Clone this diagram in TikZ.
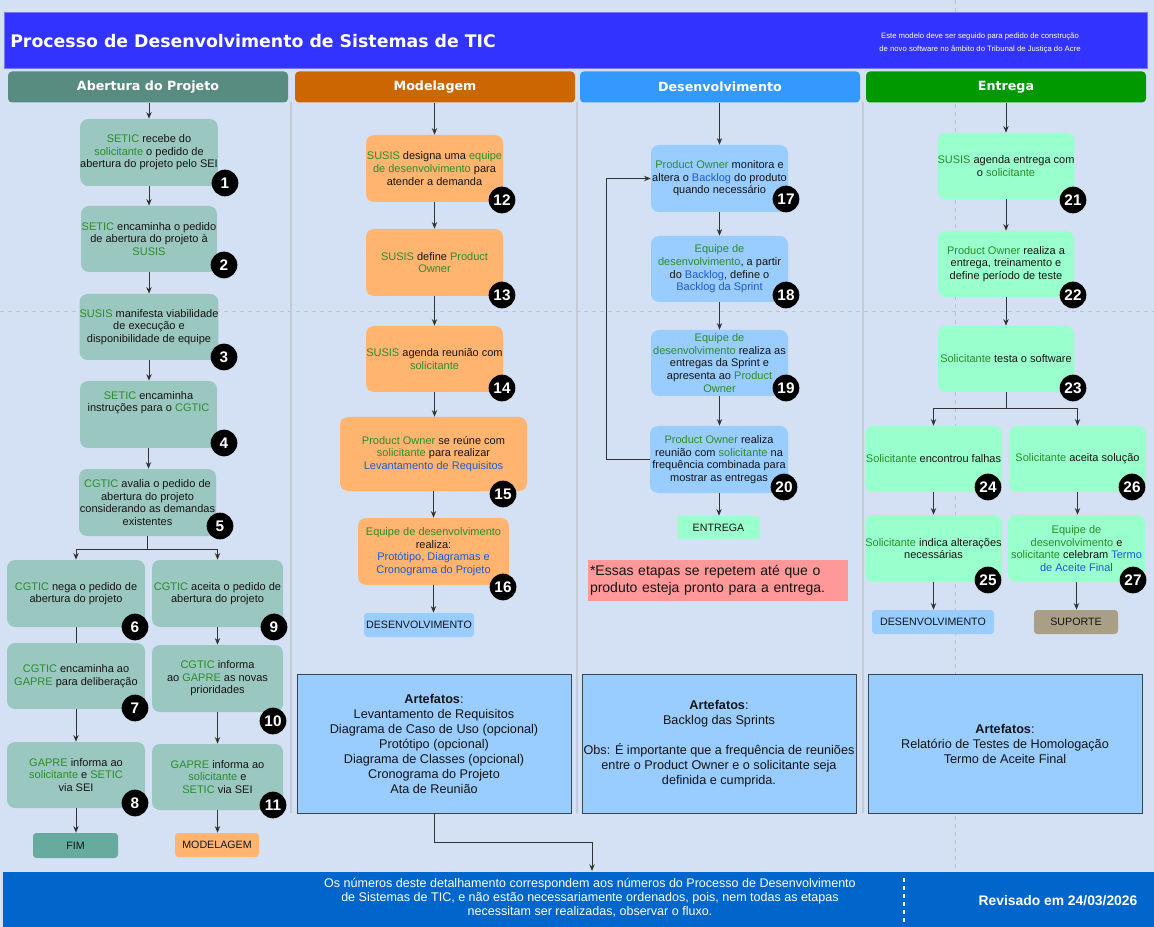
\documentclass[tikz,border=0pt]{standalone}
\usepackage{fontspec}
\setmainfont{Liberation Sans}
\newfontfamily\headfont{DejaVu Sans}
\usetikzlibrary{arrows.meta,calc}

\definecolor{pagebg}{HTML}{D4E1F4}
\definecolor{bannerblue}{HTML}{3333FF}
\definecolor{bannerline}{HTML}{7777FF}
\definecolor{footblue}{HTML}{0066CC}
\definecolor{hdA}{HTML}{588C81}
\definecolor{hdM}{HTML}{CC6600}
\definecolor{hdD}{HTML}{3399FF}
\definecolor{hdE}{HTML}{009900}
\definecolor{fillA}{HTML}{9AC7BF}
\definecolor{fillM}{HTML}{FFB570}
\definecolor{fillD}{HTML}{99CCFF}
\definecolor{fillE}{HTML}{99FFCC}
\definecolor{fimfill}{HTML}{67AB9F}
\definecolor{supfill}{HTML}{A89F85}
\definecolor{notefill}{HTML}{FF9999}
\definecolor{sepgray}{HTML}{C6CBD3}
\definecolor{gridgray}{HTML}{BCC3CE}
\definecolor{lnc}{HTML}{333333}
\definecolor{txt}{HTML}{141414}
\definecolor{actor}{HTML}{2C8C2C}
\definecolor{artefact}{HTML}{1F5ACF}
\definecolor{artline}{HTML}{3A4452}

\newcommand\hlg[1]{\textcolor{actor}{#1}}
\newcommand\hlb[1]{\textcolor{artefact}{#1}}

\begin{document}
\begin{tikzpicture}[x=0.75pt,y=-0.75pt,
  sz/.style 2 args={minimum width=#1*0.75pt,minimum height=#2*0.75pt},
  stepbox/.style={rounded corners=6pt,inner sep=0pt,align=center,text=txt,
    font=\fontsize{8.25}{9.45}\selectfont},
  stA/.style={stepbox,fill=fillA},
  stM/.style={stepbox,fill=fillM},
  stD/.style={stepbox,fill=fillD},
  stE/.style={stepbox,fill=fillE},
  badge/.style={circle,fill=black,text=white,inner sep=0pt,minimum size=20pt,
    font=\bfseries\fontsize{11.5}{12}\selectfont},
  arr/.style={draw=lnc,line width=0.75pt,-{Stealth[length=5pt,width=4pt]}},
  ln/.style={draw=lnc,line width=0.75pt},
  tagbox/.style={rounded corners=2.5pt,inner sep=0pt,text=txt,
    font=\fontsize{8}{9}\selectfont},
  colhead/.style={rounded corners=3pt,inner sep=0pt,text=white,sz={280}{31},
    font=\headfont\bfseries\fontsize{9.5}{11}\selectfont},
  artbox/.style={draw=artline,fill=fillD,line width=0.6pt,inner sep=0pt,
    align=center,text=txt,sz={274}{139},font=\fontsize{9.5}{11.25}\selectfont},
  sepline/.style={draw=sepgray,line width=1.6pt},
  gridline/.style={draw=gridgray,line width=0.6pt,dash pattern=on 3pt off 3pt}
]
\useasboundingbox (0,0) rectangle (1154,927);
\fill[pagebg] (0,0) rectangle (1154,927);

% page grid
\draw[gridline] (0,311) -- (1154,311);
\draw[gridline] (955,0) -- (955,927);

% lane separators
\draw[sepline] (291,102) -- (291,813);
\draw[sepline] (577,102) -- (577,813);
\draw[sepline] (863,102) -- (863,813);

% banner
\node[fill=bannerblue,draw=bannerline,line width=0.6pt,sz={1143}{56},inner sep=0pt] (banner) at (575.5,40) {};
\node[anchor=west,text=white,inner sep=0pt,
  font=\headfont\bfseries\fontsize{13}{15}\selectfont] (title) at (10,41)
  {Processo de Desenvolvimento de Sistemas de TIC};
\node[text=white,align=center,inner sep=0pt,font=\fontsize{5.8}{9.5}\selectfont] (subtitle) at (980,43)
  {Este modelo deve ser seguido para pedido de construção\\de novo software no âmbito do Tribunal de Justiça do Acre};

% lane headers
\node[colhead,fill=hdA] (h1) at (148,87) {Abertura do Projeto};
\node[colhead,fill=hdM] (h2) at (435,87) {Modelagem};
\node[colhead,fill=hdD] (h3) at (720,87) {Desenvolvimento};
\node[colhead,fill=hdE] (h4) at (1006,87) {Entrega};

% ---- Abertura do Projeto
\node[stA,sz={136}{67}] (n1) at (149,152.5) {\hlg{SETIC} recebe do\\\hlg{solicitante} o pedido de\\abertura do projeto pelo SEI};
\node[stA,sz={136}{66}] (n2) at (149,239) {\hlg{SETIC} encaminha o pedido\\de abertura do projeto à\\\hlg{SUSIS}};
\node[stA,sz={136}{66}] (n3) at (149,327) {\hlg{SUSIS} manifesta viabilidade\\de execução e\\disponibilidade de equipe};
\node[stA,sz={137}{67}] (n4) at (148.5,414.5) {};
\node[stepbox] (n4t) at ($(n4)+(0,-12)$) {\hlg{SETIC} encaminha\\instruções para o \hlg{CGTIC}};
\node[stA,sz={137}{67}] (n5) at (147.5,502.5) {\hlg{CGTIC} avalia o pedido de\\abertura do projeto\\considerando as demandas\\existentes};
\node[stA,sz={138}{67}] (n6) at (76,593.5) {\hlg{CGTIC} nega o pedido de\\abertura do projeto};
\node[stA,sz={138}{66}] (n7) at (76,676) {\hlg{CGTIC} encaminha ao\\\hlg{GAPRE} para deliberação};
\node[stA,sz={138}{66}] (n8) at (76,775) {\hlg{GAPRE} informa ao\\\hlg{solicitante} e \hlg{SETIC}\\via SEI};
\node[stA,sz={131}{67}] (n9) at (217.5,593.5) {\hlg{CGTIC} aceita o pedido de\\abertura do projeto};
\node[stA,sz={131}{67}] (n10) at (217.5,678.5) {\hlg{CGTIC} informa\\ao \hlg{GAPRE} as novas\\prioridades};
\node[stA,sz={131}{66}] (n11) at (217.5,777) {\hlg{GAPRE} informa ao\\\hlg{solicitante} e\\\hlg{SETIC} via SEI};
\node[tagbox,fill=fimfill,sz={85}{25}] (fim) at (75.5,845.5) {FIM};
\node[tagbox,fill=fillM,sz={84}{24}] (tomod) at (217,845) {MODELAGEM};

% ---- Modelagem
\node[stM,sz={137}{67}] (n12) at (434.5,168.5) {\hlg{SUSIS} designa uma \hlg{equipe}\\\hlg{de desenvolvimento} para\\atender a demanda};
\node[stM,sz={137}{67}] (n13) at (434.5,262.5) {\hlg{SUSIS} define \hlg{Product}\\\hlg{Owner}};
\node[stM,sz={137}{66}] (n14) at (434.5,359) {\hlg{SUSIS} agenda reunião com\\\hlg{solicitante}};
\node[stM,sz={187}{74}] (n15) at (433.5,454) {\hlg{Product Owner} se reúne com\\\hlg{solicitante} para realizar\\\hlb{Levantamento de Requisitos}};
\node[stM,sz={151}{67}] (n16) at (433.5,551.5) {\hlg{Equipe de desenvolvimento}\\realiza:\\\hlb{Protótipo, Diagramas e}\\\hlb{Cronograma do Projeto}};
\node[tagbox,fill=fillD,sz={110}{24}] (todev2) at (419,625) {DESENVOLVIMENTO};

% ---- Desenvolvimento
\node[stD,sz={137}{67}] (n17) at (719.5,178.5) {\hlg{Product Owner} monitora e\\altera o \hlb{Backlog} do produto\\quando necessário};
\node[stD,sz={137}{66}] (n18) at (719.5,269) {\hlg{Equipe de}\\\hlg{desenvolvimento}, a partir\\do \hlb{Backlog}, define o\\\hlb{Backlog da Sprint}};
\node[stD,sz={137}{66}] (n19) at (719.5,363) {\hlg{Equipe de}\\\hlg{desenvolvimento} realiza as\\entregas da Sprint e\\apresenta ao \hlg{Product}\\\hlg{Owner}};
\node[stD,sz={138}{67}] (n20) at (719,459.5) {\hlg{Product Owner} realiza\\reunião com \hlg{solicitante} na\\frequência combinada para\\mostrar as entregas};
\node[tagbox,fill=fillE,sz={83}{23}] (toent) at (718.5,527.5) {ENTREGA};
\node[fill=notefill,sz={260}{41},inner sep=0pt,text width=256*0.75pt,align=left,
  text=txt,font=\fontsize{10.5}{12.5}\selectfont] (note) at (718,580.5)
  {*Essas etapas se repetem até que o\\produto esteja pronto para a entrega.};

% ---- Entrega
\node[stE,sz={136}{66}] (n21) at (1006,166) {\hlg{SUSIS} agenda entrega com\\o \hlg{solicitante}};
\node[stE,sz={136}{66}] (n22) at (1006,264) {\hlg{Product Owner} realiza a\\entrega, treinamento e\\define período de teste};
\node[stE,sz={136}{66}] (n23) at (1006,359) {\hlg{Solicitante} testa o software};
\node[stE,sz={137}{66}] (n24) at (933.5,459) {\hlg{Solicitante} encontrou falhas};
\node[stE,sz={137}{67}] (n25) at (933.5,548.5) {\hlg{Solicitante} indica alterações\\necessárias};
\node[stE,sz={137}{66}] (n26) at (1077.5,459) {\hlg{Solicitante} aceita solução};
\node[stE,sz={137}{67}] (n27) at (1076.5,548.5) {\hlg{Equipe de}\\\hlg{desenvolvimento} e\\\hlg{solicitante} celebram \hlb{Termo}\\\hlb{de Aceite Final}};
\node[tagbox,fill=fillD,sz={122}{24}] (todev4) at (933,622) {DESENVOLVIMENTO};
\node[tagbox,fill=supfill,sz={84}{24}] (tosup) at (1076,622) {SUPORTE};

% ---- artefacts
\node[artbox] (a2) at (434,743.5) {\textbf{Artefatos}:\\Levantamento de Requisitos\\Diagrama de Caso de Uso (opcional)\\Protótipo (opcional)\\Diagrama de Classes (opcional)\\Cronograma do Projeto\\Ata de Reunião};
\node[artbox] (a3) at (719,743.5) {\textbf{Artefatos}:\\Backlog das Sprints\\[11.25pt]Obs: É importante que a frequência de reuniões\\entre o Product Owner e o solicitante seja\\definida e cumprida.};
\node[artbox] (a4) at (1005,743.5) {\textbf{Artefatos}:\\Relatório de Testes de Homologação\\Termo de Aceite Final};

% ---- footer
\node[fill=footblue,sz={1151}{55},inner sep=0pt] (foot) at (578.5,899.5) {};
\node[text=white,align=center,inner sep=0pt,font=\fontsize{9.4}{10.5}\selectfont] (footnote) at (590,898)
  {Os números deste detalhamento correspondem aos números do Processo de Desenvolvimento\\de Sistemas de TIC, e não estão necessariamente ordenados, pois, nem todas as etapas\\necessitam ser realizadas, observar o fluxo.};
\node[text=white,inner sep=0pt,font=\bfseries\fontsize{10.4}{12}\selectfont] (revised) at (1058,901) {Revisado em 24/03/2026};
\draw[white,line width=0.8pt,dash pattern=on 3pt off 3pt] (904,878) -- (904,922);
\coordinate (ftin) at (592,871);

% ---- step badges
\foreach \k/\px/\py in {1/225/183,2/224/265,3/224/357,4/224/443,5/220/526,
  6/135/627,7/135/708,8/135/803,9/274/627,10/273/721,11/273/805,
  12/502/200,13/502/295,14/502/388,15/503/494,16/503/587,
  17/786/199,18/786/295,19/786/388,20/784/487,
  21/1073/200,22/1073/295,23/1073/388,24/988/487,25/988/580,26/1132/487,27/1133/580}
  \node[badge] (b\k) at (\px,\py) {\k};

% ---- connectors
\draw[arr] (n1.north |- h1.south) -- (n1.north);
\draw[arr] (n1.south) -- (n1.south |- n2.north);
\draw[arr] (n2.south) -- (n2.south |- n3.north);
\draw[arr] (n3.south) -- (n3.south |- n4.north);
\draw[arr] (n4.south) -- (n4.south |- n5.north);
\draw[arr] (n5.south) -- ++(0,13) -| (n6.north);
\draw[arr] (n5.south) -- ++(0,13) -| (n9.north);
\draw[ln] (n6.south) -- (n6.south |- n7.north);
\draw[arr] (n7.south) -- (n7.south |- n8.north);
\draw[arr] (n8.south) -- (n8.south |- fim.north);
\draw[arr] (n9.south) -- (n9.south |- n10.north);
\draw[arr] (n10.south) -- (n10.south |- n11.north);
\draw[arr] (n11.south) -- (n11.south |- tomod.north);

\draw[arr] (n12.north |- h2.south) -- (n12.north);
\draw[arr] (n12.south) -- (n12.south |- n13.north);
\draw[arr] (n13.south) -- (n13.south |- n14.north);
\draw[arr] (n14.south) -- (n14.south |- n15.north);
\draw[arr] (n15.south) -- (n15.south |- n16.north);
\draw[arr] (n16.south) -- (n16.south |- todev2.north);
\draw[arr] (a2.south) -- ++(0,29) -| (ftin);

\draw[arr] (n17.north |- h3.south) -- (n17.north);
\draw[arr] (n17.south) -- (n17.south |- n18.north);
\draw[arr] (n18.south) -- (n18.south |- n19.north);
\draw[arr] (n19.south) -- (n19.south |- n20.north);
\draw[arr] (n20.south) -- (n20.south |- toent.north);
\draw[arr] (n20.west) -- ++(-43,0) |- (n17.west);

\draw[arr] (n21.north |- h4.south) -- (n21.north);
\draw[arr] (n21.south) -- (n21.south |- n22.north);
\draw[arr] (n22.south) -- (n22.south |- n23.north);
\draw[arr] (n23.south) -- ++(0,16) -| (n24.north);
\draw[arr] (n23.south) -- ++(0,16) -| (n26.north);
\draw[arr] (n24.south) -- (n24.south |- n25.north);
\draw[arr] (n26.south) -- (n26.south |- n27.north);
\draw[arr] (n25.south) -- (n25.south |- todev4.north);
\draw[arr] (n27.south) -- (n27.south |- tosup.north);
\end{tikzpicture}
\end{document}
